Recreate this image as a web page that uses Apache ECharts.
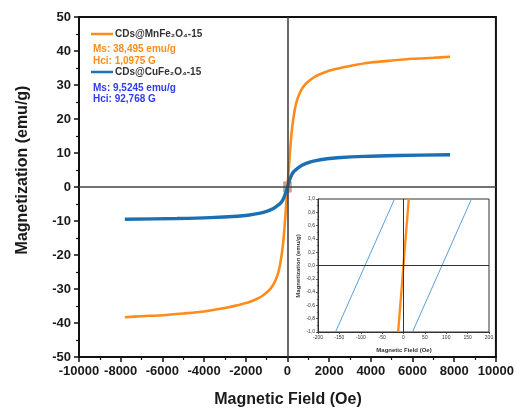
<!DOCTYPE html>
<html><head><meta charset="utf-8">
<script src="https://cdn.jsdelivr.net/npm/echarts@6/dist/echarts.min.js"></script>
<style>html,body{margin:0;padding:0;background:#fff}#c{width:517px;height:412px}</style>
</head><body><div id="c"></div>
<script>
// Main chart: CDs@MnFe2O4-15
const fieldMn = [-7800,-7000,-6000,-5000,-4000,-3000,-2400,-1900,-1500,-1250,-1000,-800,-640,-500,-400,-330,-260,-200,-150,-100,-50,0,50,100,150,200,260,330,400,500,640,800,1000,1250,1500,1900,2400,3000,4000,5000,6000,7000,7800];
const magMn = [-38.3,-38.0,-37.7,-37.2,-36.6,-35.6,-34.8,-34.0,-33.0,-32.2,-31.0,-29.8,-28.3,-26.3,-24.2,-22.0,-19.2,-16.0,-12.6,-8.5,-4.2,0,4.2,8.5,12.6,16.0,19.2,22.0,24.2,26.3,28.3,29.8,31.0,32.2,33.0,34.0,34.8,35.6,36.6,37.2,37.7,38.0,38.3];
// Main chart: CDs@CuFe2O4-15
const fieldCu = [-7800,-5300,-3700,-2400,-1900,-1300,-1000,-720,-480,-300,-200,-100,0,100,200,300,480,720,1000,1300,1900,2400,3700,5300,7800];
const magCu = [-9.5,-9.25,-9.0,-8.6,-8.3,-7.7,-7.2,-6.5,-5.5,-4.5,-3.5,-2.0,0,2.0,3.5,4.5,5.5,6.5,7.2,7.7,8.3,8.6,9.0,9.25,9.5];
// Inset (zoom near origin)
const insetCuLeftField = [-159,-21];
const insetCuRightField = [21,159];
const insetMnField1 = [-13.5,11.3];
const insetMnField2 = [-11.5,13.3];
const insetMag = [-1,1];
// Legend texts
const legendMn = ['CDs@MnFe\u2082O\u2084-15','Ms: 38,495 emu/g','Hci: 1,0975 G'];
const legendCu = ['CDs@CuFe\u2082O\u2084-15','Ms: 9,5245 emu/g','Hci: 92,768 G'];

const zip = (a,b)=>a.map((v,i)=>[v,b[i]]);
const ORANGE='#ff8c1a', BLUE='#1b6fb3', LBLUE='#5a9fd6', TBLUE='#2f3cf0';
const F='Arial, "Liberation Sans", sans-serif';

const chart = echarts.init(document.getElementById('c'), null, {renderer:'canvas'});
const mainAxisCommon = {
  axisLine:{onZero:false, lineStyle:{color:'#111', width:2}},
  axisTick:{show:true, length:5, lineStyle:{color:'#111', width:1.5}},
  minorTick:{show:true, splitNumber:2, length:3, lineStyle:{color:'#111', width:1.2}},
  splitLine:{show:false},
  axisLabel:{color:'#1a1a1a', fontSize:13, fontWeight:'bold', fontFamily:F, showMinLabel:true, showMaxLabel:true, formatter:v=>String(Math.round(v))}
};
const insetAxisCommon = {
  axisLine:{onZero:false, lineStyle:{color:'#333', width:1}},
  axisTick:{show:true, length:2, lineStyle:{color:'#333', width:0.8}},
  minorTick:{show:true, splitNumber:2, length:1.2, lineStyle:{color:'#333', width:0.6}},
  splitLine:{show:false},
  axisLabel:{color:'#333', fontSize:5, fontFamily:F, margin:3, showMinLabel:true, showMaxLabel:true, formatter:v=>String(Math.round(v))}
};
const fmtComma = v => Math.abs(v)<1e-9 ? '0,0' : v.toFixed(1).replace('.',',');

const option = {
  animation:false,
  backgroundColor:'#fff',
  grid:[
    {left:79, right:19, top:17, bottom:55, show:true, borderColor:'#111', borderWidth:2, backgroundColor:'transparent'},
    {left:318, right:28, top:199, bottom:80, show:true, borderColor:'#333', borderWidth:1, backgroundColor:'#fff'}
  ],
  xAxis:[
    Object.assign({}, mainAxisCommon, {type:'value', gridIndex:0, min:-10000, max:10000, interval:2000}),
    Object.assign({}, insetAxisCommon, {type:'value', gridIndex:1, min:-200, max:200, interval:50})
  ],
  yAxis:[
    Object.assign({}, mainAxisCommon, {type:'value', gridIndex:0, min:-50, max:50, interval:10}),
    Object.assign({}, insetAxisCommon, {type:'value', gridIndex:1, min:-1, max:1, interval:0.2,
      axisLabel:Object.assign({}, insetAxisCommon.axisLabel, {formatter:fmtComma})})
  ],
  series:[
    {type:'line', xAxisIndex:0, yAxisIndex:0, data:[], z:1, silent:true,
      markLine:{silent:true, symbol:'none', label:{show:false}, lineStyle:{color:'#444', width:1.6, type:'solid'},
        data:[{xAxis:0},{yAxis:0}]}},
    {name:'Mn', type:'line', xAxisIndex:0, yAxisIndex:0, data:zip(fieldMn,magMn), showSymbol:false, smooth:0.3,
      lineStyle:{color:ORANGE, width:2.6}, z:3},
    {name:'Cu', type:'line', xAxisIndex:0, yAxisIndex:0, data:zip(fieldCu,magCu), showSymbol:false, smooth:0.3,
      lineStyle:{color:BLUE, width:3.4}, z:4},
    {type:'line', xAxisIndex:0, yAxisIndex:0, data:[], z:6, silent:true,
      markArea:{silent:true, itemStyle:{color:'rgba(150,160,172,0.85)', borderColor:'#ef8a8a', borderWidth:1},
        data:[[{coord:[-180,-1.5]},{coord:[180,1.5]}]]}},
    // inset
    {type:'line', xAxisIndex:1, yAxisIndex:1, data:[], z:1, silent:true,
      markLine:{silent:true, symbol:'none', label:{show:false}, lineStyle:{color:'#333', width:1, type:'solid'},
        data:[{xAxis:0},{yAxis:0}]}},
    {type:'line', xAxisIndex:1, yAxisIndex:1, data:zip(insetCuLeftField,insetMag), showSymbol:false, lineStyle:{color:LBLUE, width:1}, z:3},
    {type:'line', xAxisIndex:1, yAxisIndex:1, data:zip(insetCuRightField,insetMag), showSymbol:false, lineStyle:{color:LBLUE, width:1}, z:3},
    {type:'line', xAxisIndex:1, yAxisIndex:1, data:zip(insetMnField1,insetMag), showSymbol:false, lineStyle:{color:ORANGE, width:1.5}, z:4},
    {type:'line', xAxisIndex:1, yAxisIndex:1, data:zip(insetMnField2,insetMag), showSymbol:false, lineStyle:{color:ORANGE, width:1.5}, z:4}
  ],
  graphic:[
    {type:'text', x:288, y:400, style:{text:'Magnetic Field (Oe)', font:'bold 16px '+F, fill:'#1a1a1a', align:'center', verticalAlign:'middle'}},
    {type:'text', x:23, y:170, rotation:Math.PI/2, style:{text:'Magnetization (emu/g)', font:'bold 16px '+F, fill:'#1a1a1a', align:'center', verticalAlign:'middle'}},
    {type:'text', x:404, y:350, style:{text:'Magnetic Field (Oe)', font:'bold 6px '+F, fill:'#333', align:'center', verticalAlign:'middle'}},
    {type:'text', x:298, y:266, rotation:Math.PI/2, style:{text:'Magnetization (emu/g)', font:'bold 6px '+F, fill:'#333', align:'center', verticalAlign:'middle'}},
    {type:'line', shape:{x1:91, y1:34, x2:113, y2:34}, style:{stroke:ORANGE, lineWidth:2.5}},
    {type:'text', x:115, y:34, style:{text:legendMn[0], font:'bold 10px '+F, fill:'#333', verticalAlign:'middle'}},
    {type:'text', x:93, y:49, style:{text:legendMn[1], font:'bold 10px '+F, fill:ORANGE, verticalAlign:'middle'}},
    {type:'text', x:93, y:61, style:{text:legendMn[2], font:'bold 10px '+F, fill:ORANGE, verticalAlign:'middle'}},
    {type:'line', shape:{x1:91, y1:72, x2:113, y2:72}, style:{stroke:BLUE, lineWidth:2.5}},
    {type:'text', x:115, y:72, style:{text:legendCu[0], font:'bold 10px '+F, fill:'#333', verticalAlign:'middle'}},
    {type:'text', x:93, y:88, style:{text:legendCu[1], font:'bold 10px '+F, fill:TBLUE, verticalAlign:'middle'}},
    {type:'text', x:93, y:99, style:{text:legendCu[2], font:'bold 10px '+F, fill:TBLUE, verticalAlign:'middle'}}
  ]
};
chart.setOption(option);
</script></body></html>
